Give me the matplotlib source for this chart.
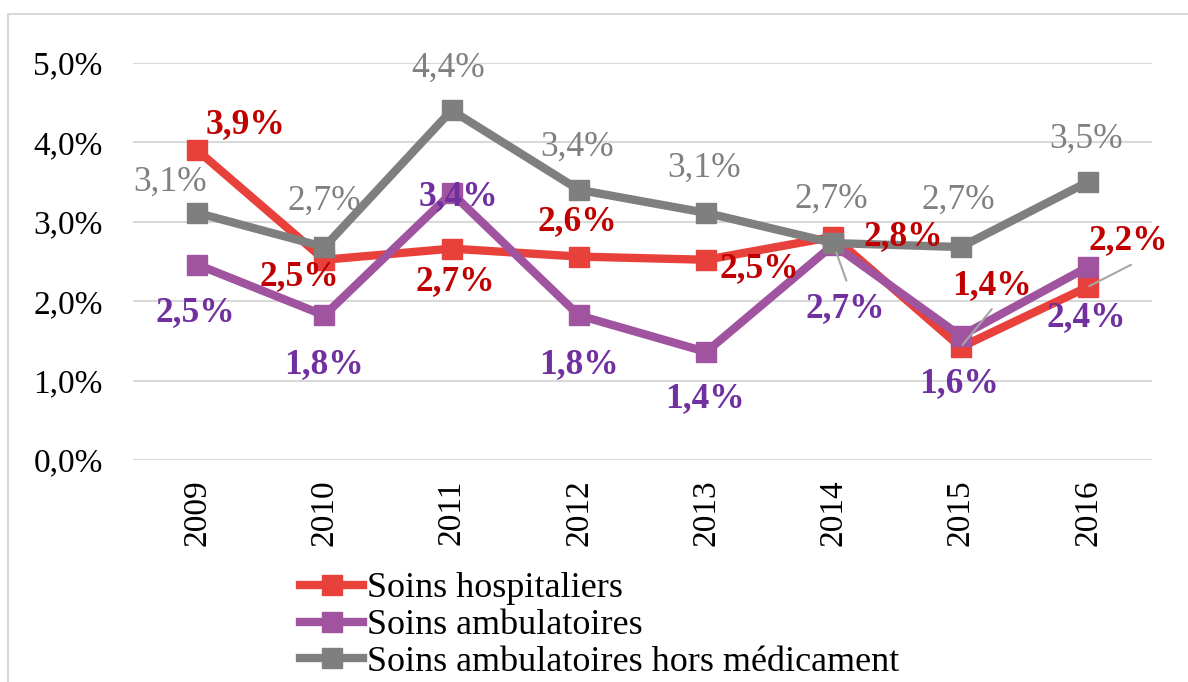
import matplotlib

matplotlib.use("Agg")
import matplotlib.pyplot as plt
from matplotlib.patches import Rectangle

years = ["2009", "2010", "2011", "2012", "2013", "2014", "2015", "2016"]
hospitaliers = [3.90, 2.52, 2.66, 2.56, 2.52, 2.81, 1.42, 2.18]
ambulatoires = [2.46, 1.82, 3.36, 1.82, 1.36, 2.71, 1.56, 2.43]
hors_medicament = [3.11, 2.68, 4.40, 3.40, 3.11, 2.73, 2.68, 3.50]
series_names = ["Soins hospitaliers", "Soins ambulatoires",
                "Soins ambulatoires hors médicament"]

# label offsets from each point, in pixels (x right, y up)
off_hosp = [(48, 25), (-25, -17), (4, -33), (-2, 35), (53, -9), (70, 0), (31, 62), (40, 46)]
off_amb = [(-2, -48), (0, -49), (7, -4), (0, -49), (-1, -47), (12, -64), (-2, -48), (-2, -51)]
off_hors = [(-27, 31), (0, 46), (-3, 42), (-2, 43), (-2, 45), (-2, 44), (-2, 47), (-2, 43)]

plt.rcParams['font.family'] = ['Liberation Serif', 'DejaVu Serif']

fig = plt.figure(figsize=(11.88, 6.82), dpi=100)
fig.patches.append(Rectangle((8 / 1188, -0.1), 1.2, 1 - 14 / 682 + 0.1,
                             transform=fig.transFigure, fill=False,
                             edgecolor='#D9D9D9', linewidth=1.5))
ax = fig.add_axes([0.1123, 0.3255, 0.8571, 0.5826])

x = list(range(len(years)))
styles = [
    (hospitaliers, '#E8403A', '#C00000', 'bold', off_hosp, 2),
    (ambulatoires, '#A0549F', '#7030A0', 'bold', off_amb, 3),
    (hors_medicament, '#7F7F7F', '#808080', 'normal', off_hors, 4),
]
for (vals, lc, tc, fw, offs, z), name in zip(styles, series_names):
    ax.plot(x, vals, color=lc, lw=6, marker='s', markersize=15,
            solid_joinstyle='miter', label=name, zorder=z)
    for xi, v, (dx, dy) in zip(x, vals, offs):
        ax.annotate(f"{v:.1f}".replace('.', ',') + '%', xy=(xi, v),
                    xytext=(dx, dy), textcoords='offset pixels',
                    ha='center', va='center', fontsize=25.5, color=tc,
                    fontweight=fw, zorder=6)

# leader lines
leaders = [(5, ambulatoires[5], (13, -36), 6), (6, hospitaliers[6], (31, 38), 2),
           (7, hospitaliers[7], (43, 22), 1)]
for xi, v, (dx, dy), sb in leaders:
    ax.annotate('', xy=(xi, v), xytext=(dx, dy), textcoords='offset pixels',
                arrowprops=dict(arrowstyle='-', color='#A6A6A6', lw=1.5,
                                shrinkA=0, shrinkB=sb), zorder=5)

ax.set_xlim(-0.5, 7.5)
ax.set_ylim(0, 5)
ax.set_yticks([0, 1, 2, 3, 4, 5])
ax.set_yticklabels([f"{t},0%" for t in range(6)])
ax.set_xticks(x)
ax.set_xticklabels(years, rotation=90)
ax.tick_params(axis='y', length=0, pad=22, labelsize=24)
ax.tick_params(axis='x', length=0, pad=14, labelsize=24)
ax.grid(axis='y', color='#D9D9D9', lw=1.5)
ax.set_axisbelow(True)
for s in ax.spines.values():
    s.set_visible(False)

fig.legend(loc='upper left', bbox_to_anchor=(300 / 1188, 1 - 572 / 682),
           frameon=False, fontsize=26, handlelength=1.75, handletextpad=0.1,
           labelspacing=0.1, borderpad=0, borderaxespad=0)

fig.savefig("out.png", dpi=100)
